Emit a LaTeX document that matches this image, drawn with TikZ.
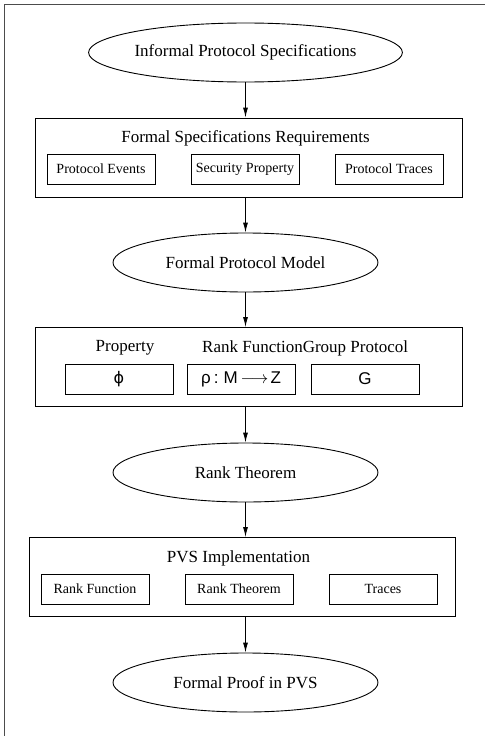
\documentclass[tikz,border=0pt]{standalone}
\usepackage{fontspec}
\setmainfont{Liberation Serif}
\setsansfont{Liberation Sans}
\newfontfamily\dvsans{DejaVu Sans}
\usetikzlibrary{shapes.geometric,arrows.meta}
\begin{document}
\begin{tikzpicture}[x=1pt,y=-1pt,
  ell/.style={draw,line width=0.9pt,ellipse,minimum width=265pt,minimum height=59pt,inner sep=0pt,
    font=\fontsize{17}{20}\selectfont},
  bigbox/.style={draw,line width=0.9pt,minimum width=427pt,minimum height=79pt,inner sep=0pt},
  subbox/.style={draw,line width=0.9pt,minimum width=108pt,minimum height=30pt,inner sep=0pt,
    font=\fontsize{14}{16}\selectfont},
  symbox/.style={subbox,font=\sffamily\fontsize{17}{20}\selectfont},
  ttl/.style={inner sep=0pt,font=\fontsize{17}{20}\selectfont},
  arr/.style={line width=0.9pt,-{Latex[length=10pt,width=5pt]}}]
\useasboundingbox (0,0) rectangle (485,736);
\draw[line width=1.4pt,black!70] (4.5,736) -- (4.5,4.5) -- (485,4.5);

\node[ell] (e1) at (245.5,52.5) {Informal Protocol Specifications};

\node[bigbox] (b1) at (248.5,157.5) {};
\node[ttl] (t1) at (245.5,138) {Formal Specifications Requirements};
\node[subbox] (s11) at (101,169) {Protocol Events};
\node[subbox] (s12) at (245,169) {Security Property};
\node[subbox] (s13) at (389,169) {Protocol Traces};

\node[ell] (e2) at (245.5,262.5) {Formal Protocol Model};

\node[bigbox] (b2) at (248.5,367) {};
\node[ttl] (p1) at (125,348) {Property};
\node[ttl,anchor=west] (p2) at (202,348) {Rank FunctionGroup Protocol};
\node[symbox] (s21) at (119,379) {{\dvsans\fontsize{16}{20}\selectfont ϕ}};
\node[symbox] (s22) at (241,379) {ρ\kern3pt:\kern5pt M\kern3pt$\longrightarrow$\kern2pt Z};
\node[symbox] (s23) at (365,379) {G};

\node[ell] (e3) at (245.5,472.5) {Rank Theorem};

\node[bigbox,minimum width=426pt] (b3) at (242,577) {};
\node[ttl] (t3) at (238.5,558) {PVS Implementation};
\node[subbox] (s31) at (95,589) {Rank Function};
\node[subbox] (s32) at (239,589) {Rank Theorem};
\node[subbox] (s33) at (383,589) {Traces};

\node[ell] (e4) at (245.5,682.5) {Formal Proof in PVS};

\draw[arr] (e1.south) -- (e1.south |- b1.north);
\draw[arr] (e1.south |- b1.south) -- (e2.north);
\draw[arr] (e2.south) -- (e2.south |- b2.north);
\draw[arr] (e2.south |- b2.south) -- (e3.north);
\draw[arr] (e3.south) -- (e3.south |- b3.north);
\draw[arr] (e3.south |- b3.south) -- (e4.north);
\end{tikzpicture}
\end{document}
